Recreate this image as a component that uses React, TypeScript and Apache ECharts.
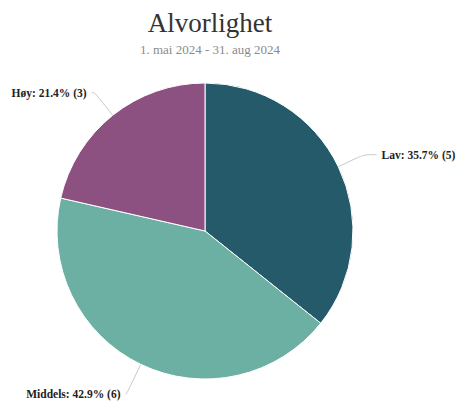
import React, { useEffect, useRef } from "react";
import * as echarts from "echarts";

const categories = ["Lav", "Middels", "Høy"];
const counts = [5, 6, 3];
const colors = ["#255a6b", "#6cafa3", "#8d5181"];
const titleText = "Alvorlighet";
const subtitleText = "1. mai 2024 - 31. aug 2024";

// label-line geometry per slice (styling only)
const lineLength = [28, 33, 29];
const lineLength2 = [13, 1, 3];

export default function App() {
  const ref = useRef<HTMLDivElement>(null);
  useEffect(() => {
    if (!ref.current) return;
    const chart = echarts.init(ref.current, undefined, { renderer: "svg" });
    const total = counts.reduce((a, b) => a + b, 0);
    chart.setOption({
      animation: false,
      backgroundColor: "#ffffff",
      title: {
        text: titleText,
        subtext: subtitleText,
        left: 205,
        textAlign: "center",
        top: 4,
        itemGap: 7,
        textStyle: {
          fontFamily: "Liberation Serif, Times New Roman, serif",
          fontSize: 27,
          fontWeight: "normal",
          color: "#333333",
        },
        subtextStyle: {
          fontFamily: "Liberation Serif, Times New Roman, serif",
          fontSize: 13,
          color: "#8a8a8a",
        },
      },
      series: [
        {
          type: "pie",
          center: [205, 231],
          radius: 148,
          startAngle: 90,
          clockwise: true,
          data: categories.map((c, i) => ({
            name: c,
            value: counts[i],
            itemStyle: { color: colors[i] },
            labelLine: { length: lineLength[i], length2: lineLength2[i] },
          })),
          itemStyle: { borderColor: "#ffffff", borderWidth: 1 },
          label: {
            show: true,
            position: "outside",
            overflow: "none",
            formatter: (p: any) =>
              `${p.name}: ${((p.value / total) * 100).toFixed(1)}% (${p.value})`,
            fontFamily: "Liberation Serif, Times New Roman, serif",
            fontWeight: "bold",
            fontSize: 11.5,
            color: "#222222",
          },
          labelLine: {
            show: true,
            smooth: 0.3,
            lineStyle: { color: "#c8c8c8", width: 1 },
          },
          emphasis: { disabled: true },
        },
      ],
    });
    return () => chart.dispose();
  }, []);
  return (
    <div
      ref={ref}
      style={{ position: "fixed", left: 0, top: 0, width: 457, height: 401 }}
    />
  );
}
